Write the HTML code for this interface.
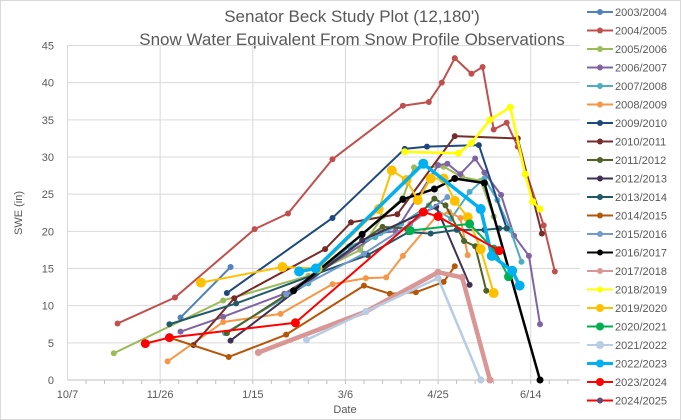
<!DOCTYPE html>
<html><head><meta charset="utf-8"><style>
html,body{margin:0;padding:0;background:#fff;}
#chart{position:relative;width:681px;height:420px;overflow:hidden;font-family:"Liberation Sans",sans-serif;}
svg text{font-family:"Liberation Sans",sans-serif;fill:#595959;}
</style></head><body>
<div id="chart">
<svg id="svg" width="681" height="420" xmlns="http://www.w3.org/2000/svg">
<rect x="0.5" y="0.5" width="680" height="419" fill="#fff" stroke="#d9d9d9"/>
<text x="352" y="22" font-size="17" text-anchor="middle">Senator Beck Study Plot (12,180')</text>
<text x="352" y="45" font-size="17" text-anchor="middle">Snow Water Equivalent From Snow Profile Observations</text>
<text transform="translate(22,213) rotate(-90)" font-size="11" text-anchor="middle">SWE (in)</text>
<text x="345" y="413" font-size="11" text-anchor="middle">Date</text>
<g id="grid"></g><g id="series"></g><g id="legend"></g>
</svg>
</div>
<script>
const seriesNames=["2003/2004","2004/2005","2005/2006","2006/2007","2007/2008","2008/2009","2009/2010","2010/2011","2011/2012","2012/2013","2013/2014","2014/2015","2015/2016","2016/2017","2017/2018","2018/2019","2019/2020","2020/2021","2021/2022","2022/2023","2023/2024","2024/2025"];
const xTickLabels=["10/7","11/26","1/15","3/6","4/25","6/14"];
const xTickDays=[0,50,100,150,200,250];
const yTickValues=[0,5,10,15,20,25,30,35,40,45];
// days since Oct 7
const d0304=[61,88]; const v0304=[8.4,15.2];
const d0405=[27,58,101,119,143,181,195,202,209,218,224,230,237,243,257,263];
const v0405=[7.6,11.1,20.3,22.4,29.7,36.9,37.4,40.0,43.3,41.2,42.1,33.7,34.6,31.4,20.8,14.6];
const d0506=[25,84,130,158,170,181,187,203,213,223,230];
const v0506=[3.6,10.7,14,17.5,22,24.5,28.6,28.7,27.3,26.8,22];
const d0607=[61,84,117,169,177,200,205,212,220,225,234,241,249,255];
const v0607=[6.5,8.5,11.6,19.8,20,28.9,29.1,27.7,29.8,27.9,24.9,19.4,16.7,7.5];
const d0708=[85,130,152,166,180,195,207,217,225,232,239,245];
const v0708=[6.3,13,18,19.2,21,23.5,21.7,25.3,27.1,24.2,20.2,15.9];
const d0809=[54,84,115,143,161,172,181,199,206,212,216];
const v0809=[2.5,7.8,8.9,12.9,13.7,13.8,16.7,22,22.6,21.8,16.8];
const d0910=[86,143,182,194,222,237];
const v0910=[11.7,21.8,31.1,31.4,31.6,20.4];
const d1011=[68,90,139,153,178,209,243,256];
const v1011=[4.7,11,17.6,21.2,22.3,32.8,32.5,19.7];
const d1112=[86,117,170,183,198,204,214,220,226];
const v1112=[6.3,11.3,20.6,20.4,24.4,23.5,18.7,18,12];
const d1213=[88,159,199,217];
const v1213=[5.3,18.8,23.3,12.8];
const d1314=[55,91,162,184,196,210,225,233,237];
const v1314=[7.5,10.3,16.8,19.9,19.7,20.2,20.2,20.4,20.4];
const d1415=[55,87,118,160,174,188,203,209];
const v1415=[5.7,3.1,6.1,12.7,11.6,11.8,13.2,15.3];
const d1516=[118,160,185,205];
const v1516=[11.5,17,21,24.6];
const d1617=[122,159,181,198,209,225,255];
const v1617=[12,19.6,24.3,25.7,27.1,26.5,0];
const d1718=[103,161,200,213,228];
const v1718=[3.7,9.2,14.5,13.8,0];
const d1819=[182,211,218,228,239,247,251,255];
const v1819=[30.7,30.5,31.9,35,36.7,27.7,24,23];
const d1920=[72,116,135,168,175,183,189,196,203,209,216,223,230];
const v1920=[13.1,15.2,15,23,28.2,26.9,24.2,27.1,27.1,24.1,21.9,17.6,11.7];
const d2021=[185,217,230,238];
const v2021=[20.1,21,17.6,13.9];
const d2122=[129,161,200,223];
const v2122=[5.4,9.2,13.7,0];
const d2223=[125,134,192,223,229,240,244];
const v2223=[14.6,15,29.1,23,16.7,14.7,12.7];
const d2324=[42,55,123,192,200,233];
const v2324=[4.9,5.7,7.7,22.6,22,17.4];
const d2425=[]; const v2425=[];

const allDays=[d0304,d0405,d0506,d0607,d0708,d0809,d0910,d1011,d1112,d1213,d1314,d1415,d1516,d1617,d1718,d1819,d1920,d2021,d2122,d2223,d2324,d2425];
const allVals=[v0304,v0405,v0506,v0607,v0708,v0809,v0910,v1011,v1112,v1213,v1314,v1415,v1516,v1617,v1718,v1819,v1920,v2021,v2122,v2223,v2324,v2425];
const colors=["#4F81BD","#C0504D","#9BBB59","#8064A2","#4BACC6","#F79646","#1F497D","#772C2A","#4F6228","#403152","#215968","#B65708","#729ACF","#000000","#DA9694","#FFFF00","#FFC000","#00B050","#B8CCE4","#00B0F0","#FF0000","#604A7B"];
const lw=[2,2,2,2,2,2,2,2,2,2,2,2,2,2.5,4.5,2.5,2,2,2.5,3.5,2,2];
const mr=[3,3,3,3,3,3,3,3,3,3,3,3,3,3.5,3.5,3.5,5,4.5,3.5,5,4.5,3];

const X0=67.5,X1=580,DPP=1.853,Y0=380,Y1=45.5;
function xs(d){return X0+d*DPP;}
function ys(v){return Y0-(v/45)*(Y0-Y1);}
const NS="http://www.w3.org/2000/svg";
function mk(tag,attrs,parent){const e=document.createElementNS(NS,tag);for(const k in attrs)e.setAttribute(k,attrs[k]);parent.appendChild(e);return e;}
const grid=document.getElementById('grid');
yTickValues.forEach(v=>{
  const l=mk('line',{x1:X0,x2:X1,y1:ys(v),y2:ys(v),stroke:v===0?'#bfbfbf':'#d9d9d9','stroke-width':1},grid);
  
  
  const t=mk('text',{x:54,y:ys(v)+4,'font-size':11,'text-anchor':'end'},grid);
  t.textContent=v;
  
  
});
xTickDays.forEach((d,i)=>{
  const l=mk('line',{x1:xs(d),x2:xs(d),y1:Y1,y2:Y0,stroke:'#d9d9d9','stroke-width':1},grid);
  
  
  const t=mk('text',{x:xs(d),y:398,'font-size':11,'text-anchor':'middle'},grid);
  t.textContent=xTickLabels[i];
  
  
});
for(let d=10;d<=270;d+=10){
  const m=mk('line',{x1:xs(d),x2:xs(d),y1:Y0,y2:Y0+4,stroke:'#bfbfbf'},grid);
  
  
}
const sg=document.getElementById('series');
allDays.forEach((ds,i)=>{
  const g=mk('g',{},sg);
  
  
  if(!ds.length)return;
  const pts=ds.map((d,j)=>xs(d)+','+ys(allVals[i][j])).join(' ');
  const pl=mk('polyline',{points:pts,fill:'none',stroke:colors[i],'stroke-width':lw[i],'stroke-linejoin':'round'},g);
  
  
  ds.forEach((d,j)=>{
    const c=mk('circle',{cx:xs(d),cy:ys(allVals[i][j]),r:mr[i],fill:colors[i]},g);
    
    
  });
});
const lg=document.getElementById('legend');
seriesNames.forEach((n,i)=>{
  const y=12+i*18.5;
  const g=mk('g',{},lg);
  
  
  mk('line',{x1:587,x2:613,y1:y,y2:y,stroke:i===21?'#FF0000':colors[i],'stroke-width':i===19?3:2},g);
  mk('circle',{cx:600,cy:y,r:(i>=16&&i<=20)?4:3,fill:colors[i]},g);
  const t=mk('text',{x:615,y:y+4,'font-size':11},g);
  t.textContent=n;
});
</script>
</body></html>
